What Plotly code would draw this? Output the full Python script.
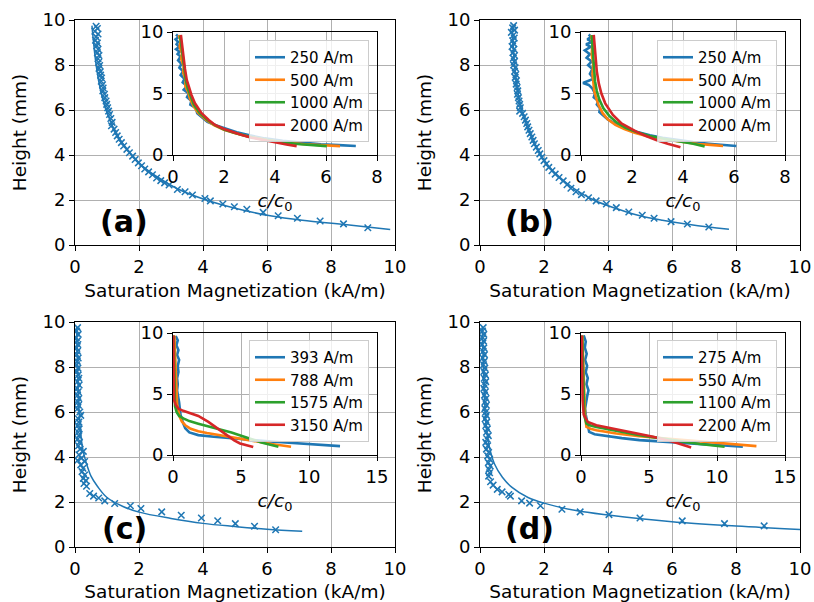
import plotly.graph_objects as go

W, H = 814, 602
BLUE, ORANGE, GREEN, RED = "#1f77b4", "#ff7f0e", "#2ca02c", "#d62728"
FONT = "DejaVu Sans"

# ---------------- main panels: fit curves (M in kA/m, h in mm) ----------------
fit_a_M = [0.53, 0.58, 0.66, 0.78, 0.97, 1.27, 1.50, 1.78, 2.12, 2.60, 3.20, 4.10, 5.1, 6.1, 7.1, 8.5, 9.85]
fit_a_h = [9.75, 9.0, 8.0, 7.0, 6.0, 5.0, 4.5, 4.0, 3.5, 3.0, 2.5, 2.0, 1.6, 1.3, 1.1, 0.9, 0.69]

fit_b_M = [1.0, 1.03, 1.08, 1.16, 1.3, 1.55, 1.7, 1.9, 2.15, 2.5, 2.95, 3.55, 4.3, 5.0, 5.7, 6.6, 7.78]
fit_b_h = [9.75, 9.0, 8.0, 7.0, 6.0, 5.0, 4.5, 4.0, 3.5, 3.0, 2.5, 2.0, 1.6, 1.3, 1.1, 0.9, 0.7]

fit_c_M = [0.05, 0.06, 0.08, 0.10, 0.13, 0.18, 0.25, 0.35, 0.5, 0.7, 1.0, 1.5, 2.0, 3.0, 4.0, 5.0, 6.0, 7.1]
fit_c_h = [9.8, 9.0, 8.0, 7.0, 6.0, 5.0, 4.3, 3.75, 3.15, 2.7, 2.2, 1.8, 1.55, 1.27, 1.05, 0.91, 0.79, 0.70]

fit_d_M = [0.07, 0.08, 0.1, 0.12, 0.15, 0.2, 0.3, 0.45, 0.7, 1.0, 1.5, 2.0, 3.0, 4.0, 6.0, 8.0, 10.0]
fit_d_h = [9.8, 9.2, 8.3, 7.3, 6.3, 5.3, 4.4, 3.7, 3.1, 2.65, 2.2, 1.95, 1.62, 1.42, 1.12, 0.93, 0.78]

# ---------------- main panels: measured points ----------------
dat_a_M = [0.66, 0.70, 0.62, 0.72, 0.66, 0.64, 0.70, 0.68, 0.72, 0.70, 0.75, 0.72, 0.74, 0.77, 0.75, 0.79,
           0.80, 0.83, 0.82, 0.86, 0.88, 0.87, 0.92, 0.93, 0.97, 0.99, 1.02, 1.05, 1.08, 1.12, 1.16, 1.14,
           1.22, 1.27, 1.32, 1.38, 1.45, 1.52, 1.62, 1.70, 1.80, 1.88, 1.98, 2.08, 2.18, 2.30, 2.42, 2.55,
           2.68, 2.80, 2.94, 3.20, 3.44, 3.67, 4.06, 4.23, 4.62, 4.98, 5.37, 5.88, 6.35, 6.95, 7.66, 8.39, 9.15]
dat_a_h = [9.72, 9.62, 9.50, 9.38, 9.25, 9.10, 8.98, 8.85, 8.70, 8.55, 8.42, 8.28, 8.12, 7.98, 7.85, 7.70,
           7.55, 7.42, 7.28, 7.12, 6.98, 6.85, 6.70, 6.55, 6.40, 6.25, 6.10, 5.95, 5.80, 5.62, 5.45, 5.30,
           5.15, 5.00, 4.85, 4.70, 4.55, 4.40, 4.25, 4.10, 3.95, 3.80, 3.65, 3.52, 3.38, 3.25, 3.12, 2.98,
           2.86, 2.76, 2.67, 2.47, 2.37, 2.22, 2.07, 1.96, 1.82, 1.70, 1.59, 1.45, 1.30, 1.19, 1.07, 0.94, 0.77]

dat_b_M = [1.05, 1.02, 1.08, 0.98, 1.04, 1.07, 1.02, 1.05, 1.00, 1.06, 1.03, 1.08, 1.04, 1.07, 1.05, 1.10,
           1.08, 1.12, 1.10, 1.14, 1.13, 1.16, 1.18, 1.17, 1.20, 1.22, 1.24, 1.26, 1.24, 1.33, 1.38, 1.42,
           1.46, 1.49, 1.53, 1.57, 1.62, 1.66, 1.70, 1.76, 1.82, 1.87, 1.93, 2.00, 2.07, 2.15, 2.25, 2.35,
           2.47, 2.60, 2.72, 2.84, 3.00, 3.17, 3.39, 3.63, 3.95, 4.26, 4.65, 5.07, 5.44, 5.97, 6.48, 7.15]
dat_b_h = [9.75, 9.65, 9.55, 9.45, 9.32, 9.20, 9.08, 8.95, 8.82, 8.70, 8.55, 8.42, 8.30, 8.15, 8.00, 7.88,
           7.72, 7.58, 7.45, 7.30, 7.15, 7.00, 6.85, 6.70, 6.55, 6.40, 6.25, 6.10, 5.95, 5.85, 5.70, 5.55,
           5.40, 5.25, 5.10, 4.95, 4.80, 4.65, 4.50, 4.35, 4.20, 4.05, 3.90, 3.75, 3.60, 3.45, 3.30, 3.15,
           3.00, 2.85, 2.68, 2.52, 2.37, 2.24, 2.10, 1.96, 1.82, 1.66, 1.47, 1.32, 1.19, 1.04, 0.93, 0.80]

dat_c_M = [0.08, 0.05, 0.10, 0.04, 0.07, 0.09, 0.05, 0.08, 0.06, 0.10, 0.07, 0.05, 0.09, 0.06, 0.10, 0.12,
           0.08, 0.13, 0.07, 0.10, 0.08, 0.12, 0.09, 0.11, 0.08, 0.15, 0.18, 0.10, 0.12, 0.09, 0.13, 0.10,
           0.12, 0.09, 0.14, 0.11, 0.16, 0.26, 0.12, 0.20, 0.08, 0.30, 0.18, 0.25, 0.22, 0.30, 0.26, 0.34,
           0.28, 0.36, 0.46, 0.58, 0.74, 0.93, 1.24, 1.73, 2.06, 2.71, 3.32, 3.95, 4.46, 5.01, 5.61, 6.27]
dat_c_h = [9.75, 9.60, 9.45, 9.30, 9.15, 9.00, 8.85, 8.70, 8.55, 8.40, 8.25, 8.10, 7.95, 7.80, 7.65, 7.50,
           7.35, 7.20, 7.05, 6.90, 6.75, 6.60, 6.45, 6.30, 6.15, 6.00, 5.85, 5.70, 5.55, 5.40, 5.25, 5.10,
           4.95, 4.80, 4.65, 4.50, 4.35, 4.25, 4.10, 3.95, 3.85, 3.80, 3.65, 3.50, 3.35, 3.20, 3.05, 2.95,
           2.82, 2.70, 2.38, 2.26, 2.18, 2.05, 1.93, 1.83, 1.71, 1.56, 1.41, 1.29, 1.17, 1.04, 0.92, 0.77]

dat_d_M = [0.10, 0.08, 0.12, 0.09, 0.11, 0.07, 0.12, 0.10, 0.14, 0.09, 0.13, 0.11, 0.15, 0.12, 0.17, 0.13,
           0.18, 0.15, 0.12, 0.17, 0.14, 0.19, 0.16, 0.20, 0.15, 0.18, 0.20, 0.16, 0.21, 0.18, 0.23, 0.20,
           0.26, 0.22, 0.18, 0.24, 0.20, 0.27, 0.24, 0.30, 0.26, 0.32, 0.28, 0.30, 0.27, 0.33, 0.41, 0.54,
           0.69, 0.90, 0.95, 1.30, 1.55, 1.89, 2.56, 3.13, 4.03, 5.00, 6.32, 7.64, 8.88]
dat_d_h = [9.75, 9.60, 9.45, 9.30, 9.15, 9.00, 8.85, 8.70, 8.55, 8.40, 8.25, 8.10, 7.95, 7.80, 7.65, 7.50,
           7.35, 7.20, 7.05, 6.90, 6.75, 6.60, 6.45, 6.30, 6.15, 6.00, 5.85, 5.70, 5.55, 5.40, 5.25, 5.10,
           4.95, 4.80, 4.65, 4.50, 4.35, 4.20, 4.05, 3.90, 3.75, 3.60, 3.45, 3.30, 3.15, 2.90, 2.75, 2.56,
           2.45, 2.33, 2.26, 2.05, 1.95, 1.83, 1.68, 1.56, 1.44, 1.29, 1.16, 1.04, 0.94]

# ---------------- insets: c/c0 profiles ----------------
legend_a = ["250 A/m", "500 A/m", "1000 A/m", "2000 A/m"]
legend_b = ["250 A/m", "500 A/m", "1000 A/m", "2000 A/m"]
legend_c = ["393 A/m", "788 A/m", "1575 A/m", "3150 A/m"]
legend_d = ["275 A/m", "550 A/m", "1100 A/m", "2200 A/m"]

ina_c = [
    [0.12, 0.22, 0.10, 0.20, 0.14, 0.25, 0.12, 0.26, 0.18, 0.30, 0.20, 0.33, 0.25, 0.40, 0.30, 0.45, 0.38, 0.55,
     0.42, 0.62, 0.55, 0.72, 0.68, 0.90, 0.95, 1.20, 1.35, 1.70, 2.10, 2.50, 3.00, 3.60, 4.30, 5.00, 5.80, 6.50, 7.17],
    [0.22, 0.30, 0.26, 0.35, 0.32, 0.42, 0.40, 0.50, 0.48, 0.60, 0.66, 0.80, 0.98, 1.30, 1.62, 2.00, 2.45, 3.00,
     3.70, 4.40, 5.20, 5.90, 6.55],
    [0.28, 0.33, 0.38, 0.44, 0.50, 0.58, 0.68, 0.82, 1.05, 1.35, 1.65, 2.00, 2.40, 2.90, 3.50, 4.20, 5.00, 5.60, 6.03],
    [0.31, 0.36, 0.41, 0.47, 0.54, 0.62, 0.72, 0.86, 1.12, 1.40, 1.65, 2.00, 2.30, 2.70, 3.08, 3.50, 4.00, 4.45, 4.85],
]
ina_h = [
    [9.8, 9.6, 9.4, 9.2, 9.0, 8.8, 8.6, 8.4, 8.2, 8.0, 7.7, 7.4, 7.1, 6.8, 6.5, 6.2, 5.9, 5.6,
     5.3, 5.0, 4.7, 4.4, 4.1, 3.8, 3.4, 3.0, 2.7, 2.4, 2.1, 1.85, 1.6, 1.35, 1.15, 1.0, 0.88, 0.8, 0.73],
    [9.75, 9.3, 8.8, 8.3, 7.8, 7.2, 6.7, 6.1, 5.6, 5.1, 4.6, 4.0, 3.45, 2.85, 2.4, 2.05, 1.76, 1.48,
     1.22, 1.02, 0.88, 0.78, 0.72],
    [9.7, 8.8, 7.9, 7.0, 6.1, 5.4, 4.8, 4.1, 3.4, 2.85, 2.42, 2.08, 1.8, 1.52, 1.27, 1.05, 0.88, 0.78, 0.72],
    [9.76, 8.8, 7.86, 7.0, 6.1, 5.5, 4.9, 4.2, 3.4, 2.85, 2.44, 2.12, 1.9, 1.62, 1.41, 1.22, 1.03, 0.86, 0.72],
]

inb_c = [
    [0.30, 0.40, 0.25, 0.45, 0.20, 0.38, 0.15, 0.35, 0.22, 0.42, 0.28, 0.45, 0.35, 0.50, 0.08, 0.30, 0.45, 0.55,
     0.50, 0.68, 0.62, 0.75, 0.72, 0.90, 1.05, 1.30, 1.50, 1.80, 2.20, 2.70, 3.20, 3.80, 4.40, 5.00, 5.60, 6.09],
    [0.40, 0.45, 0.42, 0.48, 0.45, 0.50, 0.52, 0.60, 0.70, 0.85, 1.05, 1.35, 1.70, 2.10, 2.60, 3.20, 3.90, 4.60, 5.20, 5.57],
    [0.42, 0.45, 0.48, 0.50, 0.55, 0.62, 0.72, 0.88, 1.10, 1.40, 1.75, 2.20, 2.70, 3.30, 3.90, 4.40, 4.85],
    [0.50, 0.53, 0.57, 0.62, 0.70, 0.80, 0.95, 1.25, 1.60, 2.17, 2.55, 2.95, 3.40, 3.90],
]
inb_h = [
    [9.8, 9.6, 9.4, 9.2, 9.0, 8.8, 8.5, 8.2, 7.9, 7.6, 7.3, 7.0, 6.6, 6.2, 5.85, 5.7, 5.4, 5.0,
     4.7, 4.4, 4.1, 3.8, 3.5, 3.2, 2.9, 2.6, 2.35, 2.1, 1.85, 1.6, 1.4, 1.2, 1.05, 0.92, 0.8, 0.73],
    [9.75, 9.0, 8.2, 7.4, 6.6, 5.8, 5.2, 4.6, 4.0, 3.4, 2.9, 2.45, 2.1, 1.8, 1.52, 1.28, 1.07, 0.9, 0.8, 0.73],
    [9.75, 8.9, 8.0, 7.0, 6.0, 5.2, 4.5, 3.8, 3.2, 2.65, 2.2, 1.85, 1.55, 1.3, 1.1, 0.92, 0.7],
    [9.76, 8.8, 7.8, 6.8, 5.8, 5.0, 4.2, 3.25, 2.55, 1.9, 1.55, 1.22, 0.92, 0.62],
]

inc_c = [
    [0.20, 0.35, 0.25, 0.40, 0.30, 0.45, 0.35, 0.40, 0.30, 0.35, 0.30, 0.40, 0.45, 0.50, 0.55, 0.75, 0.90, 1.20,
     1.86, 3.00, 4.30, 5.50, 6.80, 8.00, 9.20, 10.80, 12.28],
    [0.10, 0.15, 0.20, 0.22, 0.25, 0.30, 0.40, 0.50, 0.65, 0.90, 1.30, 1.86, 2.50, 3.10, 4.30, 5.80, 7.25, 8.68],
    [0.05, 0.07, 0.10, 0.12, 0.15, 0.27, 0.45, 0.76, 1.20, 1.86, 2.50, 3.10, 3.70, 4.30, 4.90, 5.50, 6.50, 7.75],
    [0.03, 0.05, 0.06, 0.08, 0.20, 0.40, 0.75, 1.13, 1.86, 2.60, 3.33, 4.07, 4.50, 4.93, 5.90],
]
inc_h = [
    [9.75, 9.4, 9.0, 8.6, 8.2, 7.8, 7.3, 6.8, 6.3, 5.8, 5.3, 4.8, 4.3, 3.8, 3.3, 2.6, 2.2, 1.85,
     1.63, 1.5, 1.36, 1.25, 1.14, 1.05, 0.95, 0.85, 0.73],
    [9.8, 8.5, 7.0, 5.8, 4.8, 4.2, 3.6, 3.1, 2.75, 2.44, 2.15, 1.95, 1.8, 1.68, 1.44, 1.14, 0.9, 0.68],
    [9.8, 8.0, 6.0, 4.8, 4.0, 3.5, 3.2, 3.0, 2.78, 2.57, 2.38, 2.22, 2.03, 1.84, 1.62, 1.41, 1.03, 0.68],
    [9.8, 8.0, 6.0, 4.5, 4.1, 3.8, 3.62, 3.47, 3.2, 2.71, 2.11, 1.49, 1.2, 0.95, 0.65],
]

ind_c = [
    [0.20, 0.35, 0.28, 0.42, 0.30, 0.45, 0.35, 0.50, 0.40, 0.55, 0.45, 0.40, 0.30, 0.35, 0.45, 0.60, 1.00, 1.86,
     3.00, 4.30, 5.50, 6.76, 8.00, 9.20, 10.50, 11.90],
    [0.10, 0.15, 0.20, 0.25, 0.30, 0.40, 0.70, 1.13, 1.80, 2.60, 4.30, 6.76, 9.70, 12.90],
    [0.08, 0.12, 0.15, 0.20, 0.25, 0.40, 0.70, 1.13, 2.35, 4.30, 6.76, 8.73, 10.56],
    [0.05, 0.08, 0.10, 0.12, 0.20, 0.50, 1.13, 2.35, 3.80, 5.30, 6.76, 8.10],
]
ind_h = [
    [9.8, 9.3, 8.8, 8.3, 7.8, 7.3, 6.8, 6.3, 5.8, 5.3, 4.8, 4.3, 3.8, 3.3, 2.8, 1.9, 1.7, 1.54,
     1.38, 1.22, 1.12, 1.03, 0.95, 0.87, 0.78, 0.68],
    [9.8, 8.0, 6.0, 4.5, 3.2, 2.3, 2.15, 2.03, 1.88, 1.76, 1.54, 1.3, 1.03, 0.73],
    [9.8, 8.0, 6.0, 4.5, 3.2, 2.57, 2.42, 2.3, 2.03, 1.63, 1.22, 0.9, 0.68],
    [9.8, 8.0, 6.0, 4.5, 3.3, 2.7, 2.44, 2.17, 1.84, 1.49, 1.08, 0.62],
]

panel_labels = ["(a)", "(b)", "(c)", "(d)"]
inset_xmax = [8, 8, 15, 15]
inset_dtick = [2, 2, 5, 5]

# ---------------- layout geometry (pixels) ----------------
main_box = [(75, 395, 20, 245), (480, 800, 20, 245), (75, 395, 322, 547), (480, 800, 322, 547)]
inset_box = [(173, 377, 32, 155), (581, 785, 32, 155), (173, 377, 333, 455), (581, 785, 333, 455)]
legend_pos = [(369, 40), (777, 40), (369, 340), (777, 340)]
label_pos = [(124, 222), (529, 222), (124, 528), (529, 528)]

TICK = 18
TITLE = 18.5


def xd(l, r):
    return [l / W, r / W]


def yd(t, b):
    return [1 - b / H, 1 - t / H]


fits = [(fit_a_M, fit_a_h), (fit_b_M, fit_b_h), (fit_c_M, fit_c_h), (fit_d_M, fit_d_h)]
dats = [(dat_a_M, dat_a_h), (dat_b_M, dat_b_h), (dat_c_M, dat_c_h), (dat_d_M, dat_d_h)]
insets = [(ina_c, ina_h, legend_a), (inb_c, inb_h, legend_b), (inc_c, inc_h, legend_c), (ind_c, ind_h, legend_d)]
colors = [BLUE, ORANGE, GREEN, RED]

fig = go.Figure()
axis_common = dict(showline=True, mirror=True, linecolor="black", linewidth=1,
                   ticks="outside", ticklen=5, tickwidth=1, tickcolor="black",
                   showgrid=True, gridcolor="#b0b0b0", gridwidth=1, zeroline=False, automargin=False,
                   tickfont=dict(family=FONT, size=TICK, color="black"))
layout = {}

for i in range(4):
    n = i + 1
    xa = "x" if n == 1 else f"x{n}"
    ya = "y" if n == 1 else f"y{n}"
    xi, yi = f"x{n + 4}", f"y{n + 4}"
    leg = "legend" if n == 1 else f"legend{n}"

    fm, fh = fits[i]
    dm, dh = dats[i]
    fig.add_trace(go.Scatter(x=fm, y=fh, mode="lines", line=dict(color=BLUE, width=1.5),
                             xaxis=xa, yaxis=ya, showlegend=False, line_shape="spline"))
    fig.add_trace(go.Scatter(x=dm, y=dh, mode="markers",
                             marker=dict(symbol="x-thin", size=6.5, color=BLUE, line=dict(color=BLUE, width=1.5)),
                             xaxis=xa, yaxis=ya, showlegend=False))

    ic, ih, names = insets[i]
    for k in range(4):
        fig.add_trace(go.Scatter(x=ic[k], y=ih[k], mode="lines", name=names[k],
                                 line=dict(color=colors[k], width=2.6),
                                 xaxis=xi, yaxis=yi, legend=leg, showlegend=True))

    l, r, t, b = main_box[i]
    layout[f"xaxis{'' if n == 1 else n}"] = dict(
        axis_common, domain=xd(l, r), range=[0, 10], dtick=2, anchor=ya,
        title=dict(text="Saturation Magnetization (kA/m)", font=dict(family=FONT, size=TITLE, color="black"), standoff=8))
    layout[f"yaxis{'' if n == 1 else n}"] = dict(
        axis_common, domain=yd(t, b), range=[0, 10], dtick=2, anchor=xa,
        title=dict(text="Height (mm)", font=dict(family=FONT, size=TITLE, color="black"), standoff=11))

    l, r, t, b = inset_box[i]
    layout[f"xaxis{n + 4}"] = dict(
        axis_common, domain=xd(l, r), range=[0, inset_xmax[i]], dtick=inset_dtick[i], anchor=yi,
        title=dict(text="<i>c/c</i><sub>0</sub>", font=dict(family=FONT, size=TITLE, color="black"), standoff=8))
    layout[f"yaxis{n + 4}"] = dict(
        axis_common, domain=yd(t, b), range=[0, 10], dtick=5, anchor=xi)

    lx, ly = legend_pos[i]
    layout[leg] = dict(x=lx / W, y=1 - ly / H, xanchor="right", yanchor="top",
                       bgcolor="rgba(255,255,255,0.8)", bordercolor="#cccccc", borderwidth=1,
                       font=dict(family=FONT, size=15, color="black"), itemwidth=30,
                       tracegroupgap=0)

annotations = []
for i in range(4):
    px, py = label_pos[i]
    annotations.append(dict(text=f"<b>{panel_labels[i]}</b>", x=px / W, y=1 - py / H, xref="paper", yref="paper",
                            xanchor="center", yanchor="middle", showarrow=False,
                            font=dict(family=FONT, size=30, color="black")))

fig.update_layout(width=W, height=H, margin=dict(l=0, r=0, t=0, b=0, autoexpand=False),
                  plot_bgcolor="rgba(0,0,0,0)", paper_bgcolor="white",
                  font=dict(family=FONT, size=TICK, color="black"),
                  annotations=annotations, **layout)

fig.write_html("out.html", config={"displayModeBar": False},
               post_script="document.body.style.margin='0';document.body.style.padding='0';")
